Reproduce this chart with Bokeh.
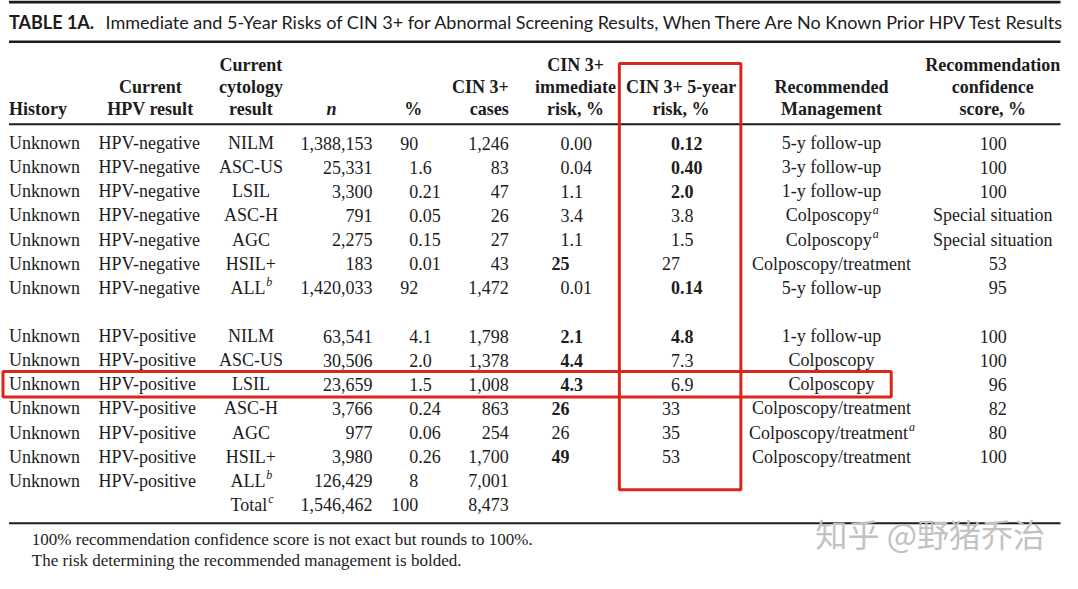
from bokeh.plotting import figure
from bokeh.models import Range1d, ColumnDataSource
from bokeh.core.properties import value
from bokeh.embed import file_html
from bokeh.resources import INLINE

# ---------------- data ----------------
title_bold = "TABLE 1A."
title_text = ("Immediate and 5-Year Risks of CIN 3+ for Abnormal Screening Results, "
              "When There Are No Known Prior HPV Test Results")

history = ["Unknown"] * 14 + [""]
hpv = ["HPV-negative"] * 7 + ["HPV-positive"] * 7 + [""]
cytology = ["NILM", "ASC-US", "LSIL", "ASC-H", "AGC", "HSIL+", "ALL",
            "NILM", "ASC-US", "LSIL", "ASC-H", "AGC", "HSIL+", "ALL", "Total"]
cytology_sup = ["", "", "", "", "", "", "b", "", "", "", "", "", "", "b", "c"]
n_values = ["1,388,153", "25,331", "3,300", "791", "2,275", "183", "1,420,033",
            "63,541", "30,506", "23,659", "3,766", "977", "3,980", "126,429", "1,546,462"]
pct = ["90", "1.6", "0.21", "0.05", "0.15", "0.01", "92",
       "4.1", "2.0", "1.5", "0.24", "0.06", "0.26", "8", "100"]
cases = ["1,246", "83", "47", "26", "27", "43", "1,472",
         "1,798", "1,378", "1,008", "863", "254", "1,700", "7,001", "8,473"]
immediate = ["0.00", "0.04", "1.1", "3.4", "1.1", "25", "0.01",
             "2.1", "4.4", "4.3", "26", "26", "49", "", ""]
immediate_bold = [0, 0, 0, 0, 0, 1, 0, 1, 1, 1, 1, 0, 1, 0, 0]
five_year = ["0.12", "0.40", "2.0", "3.8", "1.5", "27", "0.14",
             "4.8", "7.3", "6.9", "33", "35", "53", "", ""]
five_year_bold = [1, 1, 1, 0, 0, 0, 1, 1, 0, 0, 0, 0, 0, 0, 0]
management = ["5-y follow-up", "3-y follow-up", "1-y follow-up", "Colposcopy", "Colposcopy",
              "Colposcopy/treatment", "5-y follow-up", "1-y follow-up", "Colposcopy",
              "Colposcopy", "Colposcopy/treatment", "Colposcopy/treatment",
              "Colposcopy/treatment", "", ""]
management_sup = ["", "", "", "a", "a", "", "", "", "", "", "", "a", "", "", ""]
confidence = ["100", "100", "100", "Special situation", "Special situation", "53", "95",
              "100", "100", "96", "82", "80", "100", "", ""]
footnotes = ["100% recommendation confidence score is not exact but rounds to 100%.",
             "The risk determining the recommended management is bolded."]
watermark = "知乎 @野猪乔治"
highlight_row = 9          # HPV-positive LSIL

headers = [  # (lines, anchor x, align, italic)
    (["History"], 10, "left", False),
    (["Current", "HPV result"], 152, "center", False),
    (["Current", "cytology", "result"], 253, "center", False),
    (["n"], 334, "center", True),
    (["%"], 416, "center", False),
    (["CIN 3+", "cases"], 512, "right", False),
    (["CIN 3+", "immediate", "risk, %"], 579, "center", False),
    (["CIN 3+ 5-year", "risk, %"], 685, "center", False),
    (["Recommended", "Management"], 836, "center", False),
    (["Recommendation", "confidence", "score, %"], 998, "center", False),
]

# ---------------- layout ----------------
SERIF = value("Liberation Serif")
SANS = value("Lato")
FS = "18px"
INK = "#1c1c1c"
RED = "#da261d"
first_row, row_h = 148.0, 24.55
header_line_y = [69, 91, 113]


def row_y(i):
    return first_row + row_h * (i + (1 if i >= 7 else 0))


ys = [row_y(i) for i in range(len(cytology))]

# Times/Liberation Serif advance widths (em) for a few glyphs, for superscript placement
TW = {"A": .722, "L": .611, "T": .611, "o": .5, "t": .278, "a": .444, "l": .278, "C": .667,
      "p": .5, "s": .389, "c": .444, "y": .5, "/": .278, "r": .333, "e": .444, "m": .778,
      "n": .5, "b": .5}


def tw(s, size=18):
    return sum(TW.get(ch, .5) for ch in s) * size


p = figure(width=1062, height=573, x_range=Range1d(1.5, 1068), y_range=Range1d(586, 3),
           output_backend="svg", toolbar_location=None, min_border=0,
           x_axis_type=None, y_axis_type=None, outline_line_color=None,
           background_fill_color="white", border_fill_color="white")


def put(xs, yv, texts, align="left", bold=False, italic=False, font=SERIF, size=FS, color=INK):
    style = "bold italic" if (bold and italic) else ("bold" if bold else ("italic" if italic else "normal"))
    src = ColumnDataSource(dict(x=list(xs), y=list(yv), t=list(texts)))
    p.text(x="x", y="y", text="t", source=src, text_align=align, text_baseline="middle",
           text_font=font, text_font_size=size, text_font_style=style, text_color=color)


# rules
p.segment(x0=[10, 10, 10, 10], y0=[4.5, 45, 129, 535], x1=[1066, 1066, 1066, 1066],
          y1=[4.5, 45, 129, 535], line_width=[3, 2.5, 2, 2], line_color=INK)

# title
put([10], [25], [title_bold], bold=True, font=SANS, size="18px")
put([107], [25], [title_text], font=SANS, size="18px")

# headers
for lines, x, align, italic in headers:
    yy = header_line_y[-len(lines):]
    put([x] * len(lines), yy, lines, align=align, bold=True, italic=italic)

# body columns
put([10] * 14, ys[:14], history[:14])
put([100] * 14, ys[:14], hpv[:14])

# cytology (centered, with superscripts)
cx, cy_x, cy_y, sx, sy, st = [], [], [], [], [], []
for i, (c, s) in enumerate(zip(cytology, cytology_sup)):
    if s:
        w_main, w_sup = tw(c), tw(s, 12)
        end = 253 + (w_main + w_sup) / 2 - w_sup
        put([end], [ys[i]], [c], align="right")
        sx.append(end + 1); sy.append(ys[i] - 6); st.append(s)
    else:
        cx.append(c); cy_x.append(253); cy_y.append(ys[i])
put(cy_x, cy_y, cx, align="center")
put(sx, sy, st, italic=True, size="12px")

put([375] * len(n_values), ys, n_values, align="right")
put([512] * len(cases), ys, cases, align="right")


def decimal_col(vals, bolds, anchor):
    for b in (0, 1):
        idx = [i for i, v in enumerate(vals) if v and bolds[i] == b]
        ints = [vals[i].split(".")[0] for i in idx]
        fracs = [("." + vals[i].split(".")[1]) if "." in vals[i] else "" for i in idx]
        put([anchor] * len(idx), [ys[i] for i in idx], ints, align="right", bold=bool(b))
        put([anchor] * len(idx), [ys[i] for i in idx], fracs, align="left", bold=bool(b))


decimal_col(pct, [0] * len(pct), 421)
decimal_col(immediate, immediate_bold, 573)
decimal_col(five_year, five_year_bold, 684)

# management (centered, with superscripts)
mx, my, mt, sx, sy, st = [], [], [], [], [], []
for i, (m, s) in enumerate(zip(management, management_sup)):
    if not m:
        continue
    if s:
        w_main, w_sup = tw(m), tw(s, 12)
        end = 836 + (w_main + w_sup) / 2 - w_sup
        put([end], [ys[i]], [m], align="right")
        sx.append(end + 1); sy.append(ys[i] - 6); st.append(s)
    else:
        mx.append(836); my.append(ys[i]); mt.append(m)
put(mx, my, mt, align="center")
put(sx, sy, st, italic=True, size="12px")

# confidence: numbers right-aligned, words centered
num_i = [i for i, c in enumerate(confidence) if c and c[0].isdigit()]
txt_i = [i for i, c in enumerate(confidence) if c and not c[0].isdigit()]
put([1012] * len(num_i), [ys[i] for i in num_i], [confidence[i] for i in num_i], align="right")
put([998] * len(txt_i), [ys[i] for i in txt_i], [confidence[i] for i in txt_i], align="center")

# footnotes
put([33, 33], [551, 573], footnotes, size="17px")

# red highlight boxes
yc = ys[highlight_row]
p.quad(left=[4], right=[896], top=[yc - 13], bottom=[yc + 13],
       fill_color=None, line_color=RED, line_width=3)
p.quad(left=[623], right=[745], top=[67], bottom=[ys[-2] + 9],
       fill_color=None, line_color=RED, line_width=3)

# watermark
put([820], [545], [watermark], font=value("Noto Sans CJK SC"), size="32px", color="#c2c2c2")

open("out.html", "w").write(file_html(p, INLINE))
